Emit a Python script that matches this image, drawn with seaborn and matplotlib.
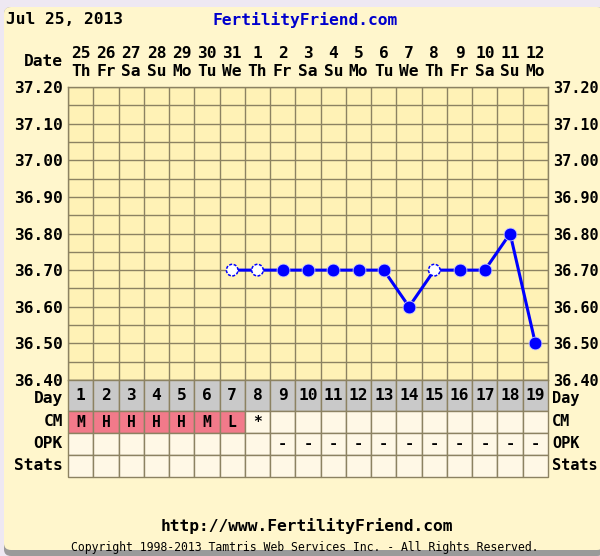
import numpy as np
import pandas as pd
import matplotlib
matplotlib.use('Agg')
import matplotlib.pyplot as plt
from matplotlib.patches import FancyBboxPatch
import seaborn as sns

# chart data
days = list(range(1, 20))
dates = ['25', '26', '27', '28', '29', '30', '31', '1', '2', '3', '4', '5',
         '6', '7', '8', '9', '10', '11', '12']
weekdays = ['Th', 'Fr', 'Sa', 'Su', 'Mo', 'Tu', 'We', 'Th', 'Fr', 'Sa', 'Su',
            'Mo', 'Tu', 'We', 'Th', 'Fr', 'Sa', 'Su', 'Mo']
temps = [None, None, None, None, None, None, 36.70, 36.70, 36.70, 36.70,
         36.70, 36.70, 36.70, 36.60, 36.70, 36.70, 36.70, 36.80, 36.50]
open_days = [7, 8, 15]
cm = ['M', 'H', 'H', 'H', 'H', 'M', 'L', '*', '', '', '', '', '', '', '', '',
      '', '', '']
opk = ['', '', '', '', '', '', '', '', '-', '-', '-', '-', '-', '-', '-', '-',
       '-', '-', '-']
row_names = ['Day', 'CM', 'OPK', 'Stats']
y_ticks = [36.40, 36.45, 36.50, 36.55, 36.60, 36.65, 36.70, 36.75, 36.80,
           36.85, 36.90, 36.95, 37.00, 37.05, 37.10, 37.15, 37.20]

GRID = '#8C8262'
PLOT_BG = '#FFF2B6'
OUTER_BG = '#FFF6CC'
CELL_BG = '#FFF8E6'
DAY_BG = '#C9C9C9'
PINK = '#F27A8A'
BLUE = '#0000FF'
FS = 11.7

sns.set_style('white')
plt.rcParams['font.family'] = ['DejaVu Sans Mono']
plt.rcParams['font.weight'] = 'bold'
plt.rcParams['text.color'] = 'black'
plt.rcParams['xtick.color'] = 'black'
plt.rcParams['ytick.color'] = 'black'

W, H = 600, 556
fig = plt.figure(figsize=(6, 5.56), dpi=100)
fig.patch.set_facecolor('#EEE8F2')
# shadow + panel (behind the axes)
fig.add_artist(FancyBboxPatch((4 / W, 0), 600 / W, 549 / H, boxstyle='round,pad=0,rounding_size=0.012',
                              transform=fig.transFigure, facecolor='#9A9A9A', edgecolor='none',
                              zorder=-10))
fig.add_artist(FancyBboxPatch((4 / W, 6 / H), 600 / W, 543 / H, boxstyle='round,pad=0,rounding_size=0.012',
                              transform=fig.transFigure, facecolor=OUTER_BG, edgecolor='none',
                              zorder=-9))


def px_axes(x0, y0, x1, y1):
    return fig.add_axes([x0 / W, (H - y1) / H, (x1 - x0) / W, (y1 - y0) / H])


# temperature chart
ax = px_axes(68, 87, 548, 380)
ax.set_facecolor(PLOT_BG)
df = pd.DataFrame({'day': days, 'temp': temps}).dropna()
sns.lineplot(data=df, x='day', y='temp', color=BLUE, linewidth=2.2, ax=ax)
filled = df[~df['day'].isin(open_days)]
hollow = df[df['day'].isin(open_days)]
sns.scatterplot(data=filled, x='day', y='temp', color=BLUE, s=85,
                edgecolor='#C8C8FF', linewidth=0.6, zorder=5, ax=ax)
sns.scatterplot(data=hollow, x='day', y='temp', color='white', s=70,
                edgecolor=BLUE, linewidth=1.1, linestyle=(0, (2, 1)), zorder=5, ax=ax)

ax.set_xlim(0.5, 19.5)
ax.set_ylim(36.40, 37.20)
ax.set_xticks(days)
ax.set_xticklabels([f'{d}\n{w}' for d, w in zip(dates, weekdays)], fontsize=FS,
                   linespacing=1.25)
ax.xaxis.tick_top()
ax.set_xticks(np.arange(0.5, 20, 1), minor=True)
ax.set_yticks(y_ticks)
ax.set_yticklabels([f'{t:.2f}' if i % 2 == 0 else '' for i, t in enumerate(y_ticks)],
                   fontsize=FS)
ax.tick_params(axis='y', length=0, pad=4, labelleft=True, labelright=True)
ax.tick_params(axis='x', which='both', length=0, pad=6)
for t in ax.yaxis.get_major_ticks():
    t.label2.set_fontsize(11)
ax.grid(True, which='minor', axis='x', color=GRID, linewidth=1)
ax.grid(True, which='major', axis='y', color=GRID, linewidth=1)
ax.set_xlabel('')
ax.set_ylabel('')
for s in ax.spines.values():
    s.set_color(GRID)
    s.set_linewidth(1)

# data table below the chart
tab = px_axes(68, 380, 548, 477)
row_tops = [380, 411, 433, 455]
row_h = [31, 22, 22, 22]
kw = dict(width=1, edgecolor=GRID, linewidth=1, clip_on=False)
tab.bar(days, row_h[0], bottom=row_tops[0], color=DAY_BG, **kw)
tab.bar(days, row_h[1], bottom=row_tops[1],
        color=[PINK if c and c != '*' else CELL_BG for c in cm], **kw)
tab.bar(days, row_h[2], bottom=row_tops[2], color=CELL_BG, **kw)
tab.bar(days, row_h[3], bottom=row_tops[3], color=CELL_BG, **kw)
tab.set_xlim(0.5, 19.5)
tab.set_ylim(477, 380)
tab.axis('off')
for d in days:
    tab.text(d, row_tops[0] + row_h[0] / 2, str(d), ha='center', va='center', fontsize=FS)
    tab.text(d, row_tops[1] + row_h[1] / 2 + 1, cm[d - 1], ha='center', va='center', fontsize=10.5)
    tab.text(d, row_tops[2] + row_h[2] / 2, opk[d - 1], ha='center', va='center', fontsize=11)

# labels around the table
for name, top, h in zip(row_names, row_tops, row_h):
    yc = 1 - (top + h / 2 + (3 if name == 'Day' else 0)) / H
    fig.text(63 / W, yc, name, ha='right', va='center', fontsize=FS)
    fig.text(552 / W, yc, name, ha='left', va='center', fontsize=11)

fig.text(63 / W, 1 - 62 / H, 'Date', ha='right', va='center', fontsize=FS)
fig.text(6 / W, 1 - 20 / H, 'Jul 25, 2013', ha='left', va='center', fontsize=FS)
fig.text(212 / W, 1 - 20 / H, 'FertilityFriend.com', ha='left', va='center',
         fontsize=FS, color='#0000CC')
fig.text(307 / W, 1 - 526 / H, 'http://www.FertilityFriend.com', ha='center',
         va='center', fontsize=FS)
fig.text(305 / W, 1 - 547 / H,
         'Copyright 1998-2013 Tamtris Web Services Inc. - All Rights Reserved.',
         ha='center', va='center', fontsize=8.3, fontweight='normal')

fig.savefig('out.png', dpi=100, facecolor=fig.get_facecolor())
